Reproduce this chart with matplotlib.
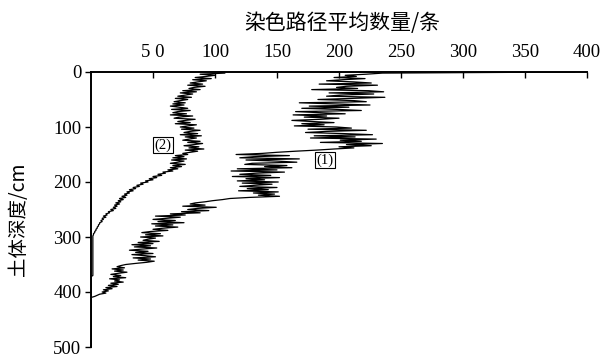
import matplotlib
matplotlib.use("Agg")
import matplotlib.pyplot as plt
import numpy as np

# ======================
# DATA (2 cm depth steps)
# ======================
step = 2

# curve (1): mean number of dyed paths, depth 0..410 cm
curve1 = [
    390, 235, 222, 205, 214, 196, 221, 203, 190, 212,
    226, 184, 231, 206, 198, 215, 178, 224, 236, 192,
    228, 201, 190, 237, 209, 183, 212, 222, 168, 197,
    225, 176, 208, 170, 199, 218, 165, 186, 205, 163,
    190, 172, 200, 185, 162, 178, 196, 170, 188, 164,
    198, 210, 175, 222, 190, 173, 204, 227, 180, 213,
    177, 230, 201, 218, 185, 235, 206, 226, 200, 212,
    196, 182, 165, 150, 138, 117, 160, 131, 120, 168,
    125, 150, 166, 130, 124, 158, 140, 162, 118, 150,
    113, 156, 133, 120, 145, 114, 152, 125, 140, 118,
    151, 122, 146, 132, 120, 150, 126, 143, 119, 151,
    131, 148, 135, 152, 128, 112, 106, 98, 92, 84,
    80, 92, 74, 101, 86, 78, 95, 73, 88, 64,
    76, 52, 72, 61, 50, 68, 54, 75, 49, 66,
    52, 70, 58, 50, 62, 48, 41, 56, 44, 58,
    40, 52, 46, 42, 55, 38, 50, 33, 48, 35,
    53, 41, 31, 46, 36, 50, 33, 44, 52, 34,
    48, 38, 51, 45, 36, 28, 24, 21, 27, 17,
    26, 19, 29, 22, 16, 24, 18, 28, 15, 23,
    19, 26, 16, 22, 14, 21, 12, 17, 10, 14,
    9, 12, 7, 5, 3, 0,
]
curve1_tail_depth = [500]
curve1_tail = [0]

# curve (2): depth 0..300 cm
curve2 = [
    102, 108, 88, 100, 93, 84, 97, 82, 93, 86,
    80, 90, 78, 92, 83, 79, 88, 74, 85, 72,
    82, 76, 70, 81, 68, 78, 72, 67, 76, 66,
    75, 64, 71, 78, 65, 80, 70, 66, 77, 64,
    82, 71, 67, 84, 76, 70, 80, 68, 85, 78,
    72, 83, 73, 88, 80, 75, 86, 72, 89, 76,
    85, 79, 74, 88, 78, 90, 83, 75, 87, 79,
    91, 76, 86, 80, 74, 78, 68, 75, 66, 77,
    65, 75, 70, 64, 76, 66, 73, 64, 70, 62,
    66, 58, 60, 54, 57, 50, 53, 47, 50, 44,
    46, 40, 42, 37, 39, 34, 36, 31, 34, 29,
    31, 27, 29, 25, 28, 23, 26, 22, 24, 20,
    23, 19, 21, 18, 20, 16, 18, 14, 15, 12,
    13, 10, 12, 9, 10, 8, 9, 7, 7, 6,
    6, 5, 5, 4, 4, 3, 3, 2, 2, 1.5,
    1.5,
]
curve2_tail_depth = [370, 372, 500]
curve2_tail = [1.5, 0, 0]

x_ticks = [50, 100, 150, 200, 250, 300, 350, 400]
x_tick_labels = ["5 0", "100", "150", "200", "250", "300", "350", "400"]
y_ticks = [0, 100, 200, 300, 400, 500]

d1 = list(step * np.arange(len(curve1))) + curve1_tail_depth
v1 = curve1 + curve1_tail
d2 = list(step * np.arange(len(curve2))) + curve2_tail_depth
v2 = curve2 + curve2_tail

# ======================
# PLOT
# ======================
fig = plt.figure(figsize=(6.08, 3.56), dpi=100)
ax = fig.add_axes([91 / 608, 9 / 356, 496 / 608, 275 / 356])

ax.plot(v1, d1, color="black", lw=0.9)
ax.plot(v2, d2, color="black", lw=0.9)

ax.set_xlim(0, 400)
ax.set_ylim(500, 0)

ax.xaxis.tick_top()
ax.set_xticks(x_ticks)
ax.set_xticklabels(x_tick_labels)
ax.set_yticks(y_ticks)
ax.tick_params(axis="x", direction="in", length=4, width=1, pad=8)
ax.tick_params(axis="y", direction="out", length=4, width=1, pad=3)
for lab in ax.get_xticklabels() + ax.get_yticklabels():
    lab.set_family("Liberation Serif")
    lab.set_fontsize(13.5)

for side in ["right", "bottom"]:
    ax.spines[side].set_visible(False)
for side in ["left", "top"]:
    ax.spines[side].set_linewidth(1.4)

cjk = ["Noto Sans CJK SC", "DejaVu Sans"]
fig.text(0.563, 0.935, "染色路径平均数量/条", ha="center", va="center",
         fontsize=15, family=cjk)
fig.text(0.03, 0.385, "土体深度/cm", ha="center", va="center",
         rotation=90, fontsize=14, family=cjk)

box = dict(boxstyle="square,pad=0.1", fc="white", ec="black", lw=0.8)
ax.text(58, 133, "(2)", ha="center", va="center", fontsize=10.5,
        family="Liberation Serif", bbox=box)
ax.text(189, 160, "(1)", ha="center", va="center", fontsize=10.5,
        family="Liberation Serif", bbox=box)

fig.savefig("out.png", dpi=100)
